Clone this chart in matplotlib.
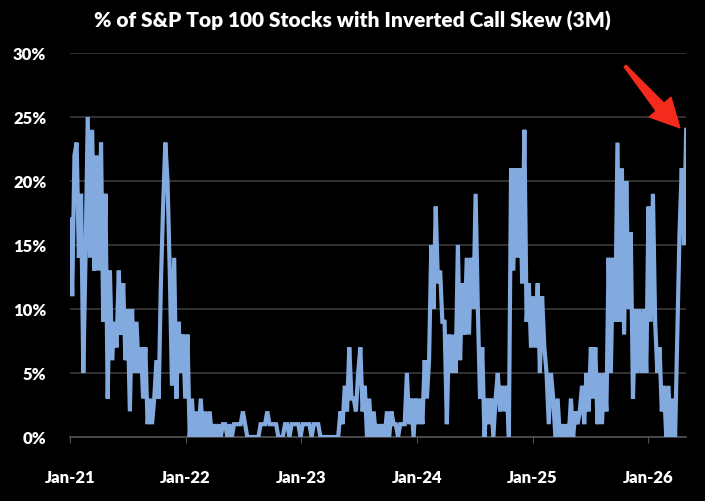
import pandas as pd
import matplotlib.pyplot as plt
import matplotlib.dates as mdates
from matplotlib.patches import Polygon
from matplotlib.ticker import FuncFormatter

# weekly readings (% of stocks), starting Jan 2021
pct_2021 = [17, 11, 22, 23, 14, 19, 5, 14, 25, 14, 24, 13, 22, 13, 23, 9, 19, 3, 13, 6,
            9, 7, 13, 8, 12, 6, 10, 2, 10, 5, 9, 5, 7, 3, 7, 1, 3, 1, 3, 6,
            3, 12, 18, 23, 20, 13, 4, 14, 3, 9, 5, 8]
pct_2022 = [3, 8, 0, 3, 0, 2, 0, 3, 0, 2, 0, 2, 0, 1, 0, 1, 0, 1, 1, 0,
            1, 0, 1, 1, 1, 1, 2, 1, 0, 0, 0, 0, 0, 0, 1, 1, 1, 2, 1, 1,
            1, 1, 0, 0, 0, 1, 1, 0, 1, 1, 1, 1]
pct_2023 = [0, 1, 1, 1, 1, 0, 1, 1, 1, 0, 0, 0, 0, 0, 0, 0, 0, 0, 2, 1,
            4, 2, 7, 3, 3, 2, 5, 7, 2, 4, 0, 3, 0, 2, 0, 1, 0, 1, 0, 2,
            0, 2, 1, 1, 0, 1, 1, 1, 5, 1, 3, 0]
pct_2024 = [3, 1, 3, 1, 6, 3, 6, 15, 10, 18, 12, 13, 9, 9, 1, 8, 5, 8, 5, 15,
            6, 12, 8, 14, 8, 14, 10, 19, 10, 3, 7, 0, 3, 1, 3, 0, 3, 5, 2, 4,
            2, 4, 0, 21, 13, 21, 14, 21, 12, 24, 9, 12]
pct_2025 = [7, 11, 7, 12, 5, 11, 7, 5, 1, 5, 3, 0, 3, 0, 1, 0, 1, 0, 3, 0,
            2, 1, 2, 4, 1, 5, 2, 7, 3, 7, 1, 5, 1, 5, 2, 14, 5, 14, 9, 23,
            9, 21, 8, 20, 10, 16, 3, 10, 5, 10, 5, 10]
pct_2026 = [5, 18, 9, 19, 9, 5, 7, 2, 4, 0, 4, 0, 3, 0, 8, 16, 21, 15, 24]

values = pct_2021 + pct_2022 + pct_2023 + pct_2024 + pct_2025 + pct_2026
dates = pd.date_range('2021-01-01', periods=len(values), freq='7D')

year_ticks = pd.to_datetime(['2021-01-01', '2022-01-01', '2023-01-01',
                             '2024-01-01', '2025-01-01', '2026-01-01'])
y_ticks = [0, 5, 10, 15, 20, 25, 30]

plt.rcParams['font.family'] = ['Lato', 'DejaVu Sans']

fig = plt.figure(figsize=(7.05, 5.02), dpi=100, facecolor='black')
ax = fig.add_axes([0.0993, 0.1275, 0.874, 0.765], facecolor='black')

ax.plot(dates, values, color='#82AADF', linewidth=3.0, solid_joinstyle='miter', zorder=3)

ax.set_ylim(0, 30)
ax.set_xlim(pd.Timestamp('2021-01-01'), pd.Timestamp('2026-05-01'))
ax.set_yticks(y_ticks)
ax.yaxis.set_major_formatter(FuncFormatter(lambda v, p: f'{v:.0f}%'))
ax.set_xticks(year_ticks)
ax.xaxis.set_major_formatter(mdates.DateFormatter('%b-%y'))

ax.grid(axis='y', color='#3a3a3a', linewidth=1.2, zorder=0)
for side in ['top', 'right', 'left']:
    ax.spines[side].set_visible(False)
ax.spines['bottom'].set_color('#505050')
ax.spines['bottom'].set_linewidth(1.2)
ax.tick_params(axis='y', length=0, pad=17, colors='white', labelsize=12)
ax.tick_params(axis='x', length=4, color='#505050', direction='out', pad=19,
               colors='white', labelsize=12)
for lbl in ax.get_xticklabels() + ax.get_yticklabels():
    lbl.set_fontweight('heavy')
    lbl.set_color('white')

fig.text(0.5, 0.958, '% of S&P Top 100 Stocks with Inverted Call Skew (3M)',
         ha='center', va='center', color='white', fontsize=15, fontweight='heavy')

# red arrow pointing at latest reading (outline given in screen pixels, y down)
arrow_px = [(626, 66), (664, 104), (671, 98), (680, 129), (649, 118), (656, 112), (624, 68)]
arrow_fig = [(x / 705, 1 - y / 502) for x, y in arrow_px]
fig.patches.append(Polygon(arrow_fig, closed=True, transform=fig.transFigure,
                           facecolor='#F42A1C', edgecolor='#F42A1C', linewidth=0.8,
                           zorder=5))

plt.savefig('out.png', dpi=100, facecolor='black')
